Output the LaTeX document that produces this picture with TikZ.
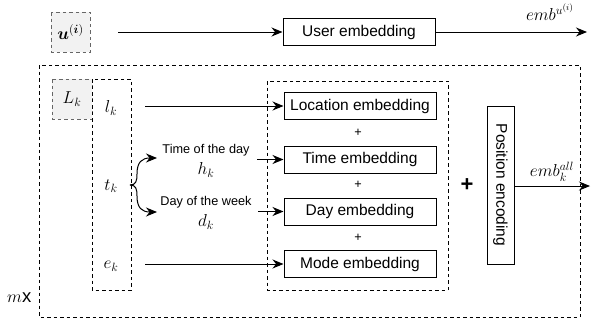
\documentclass[tikz,border=0pt]{standalone}
\usepackage{fontspec}
\setsansfont{Liberation Sans}
\usepackage{amsmath,bm}
\usetikzlibrary{arrows.meta}
\tikzset{
  every node/.style={font=\sffamily},
  emb/.style={draw, line width=1pt, minimum width=152pt, minimum height=27pt, inner sep=0pt, font=\sffamily\fontsize{15.5}{17}\selectfont},
  dbox/.style={draw, line width=1pt, dash pattern=on 3.5pt off 3pt},
  gbox/.style={draw=black!60, fill=black!5, line width=1pt, dash pattern=on 3.5pt off 3pt},
  arr/.style={line width=1pt, -{Stealth[length=11pt,width=9pt]}},
  mth/.style={font=\fontsize{18.5}{20}\selectfont, inner sep=0pt},
  sml/.style={font=\sffamily\fontsize{12.7}{14}\selectfont, inner sep=0pt},
}
\begin{document}
\begin{tikzpicture}[x=1pt,y=-1pt]
\useasboundingbox (0,0) rectangle (592,322);
% top row
\draw[gbox] (51,12) rectangle (90,52);
\node[mth] (u) at (70.5,32) {$\bm{u}^{(\bm{i})}$};
\node[emb] (ue) at (359,32) {User embedding};
\coordinate (us) at (118,32);
\coordinate (uo) at (587,32);
\draw[arr] (us) -- (ue.west);
\draw[arr] (ue.east) -- (uo);
\node[mth] (ul) at (550,12) {$emb^{u^{(i)}}$};
% outer
\draw[dbox] (39,65) rectangle (580,317);
\node[mth, anchor=west] (mx) at (7,298) {$m$\textsf{x}};
% L_k
\draw[gbox] (52,79) rectangle (92,119);
\node[mth] (L) at (72,99) {$L_k$};
\draw[dbox] (92,79) rectangle (131,290);
\node[mth] (l) at (111,108) {$l_k$};
\node[mth] (t) at (111,186) {$t_k$};
\node[mth] (e) at (111,266) {$e_k$};
% inner
\draw[dbox] (267,81) rectangle (448,290);
\node[emb] (le) at (360,106) {Location embedding};
\node[emb] (te) at (360,159.5) {Time embedding};
\node[emb] (de) at (360,211.5) {Day embedding};
\node[emb] (me) at (360,264) {Mode embedding};
\node[sml] (p1) at (358,132.5) {+};
\node[sml] (p2) at (358,185) {+};
\node[sml] (p3) at (358,237.5) {+};
\node[font=\sffamily\bfseries\fontsize{22}{24}\selectfont, inner sep=0pt] (pb) at (467,185) {+};
\node[draw, line width=1pt, minimum width=27pt, minimum height=158pt, inner sep=0pt, font=\sffamily\fontsize{15.5}{17}\selectfont] (pe) at (500.5,185) {\rotatebox{-90}{Position encoding}};
\coordinate (po) at (590,186);
\draw[arr] (pe.east |- po) -- (po);
\node[mth] (al) at (552,172) {$emb_k^{all}$};
% time / day
\node[sml] (tod) at (206,150) {Time of the day};
\node[mth] (hk) at (206,170) {$h_k$};
\node[sml] (dow) at (206,202) {Day of the week};
\node[mth] (dk) at (206,222) {$d_k$};
\coordinate (ta) at (257,159.5);
\coordinate (da) at (258,211.5);
\draw[arr] (ta) -- (te.west);
\draw[arr] (da) -- (de.west);
\coordinate (ls) at (145,106);
\coordinate (es) at (145,264);
\draw[arr] (ls) -- (le.west);
\draw[arr] (es) -- (me.west);
% brace arrows
\coordinate (b0) at (130,185);
\coordinate (bt) at (157,158);
\coordinate (bd) at (157,212);
\draw[arr] (b0) .. controls (136,185) and (137,181) .. (137,174) .. controls (137,162) and (142,158) .. (bt);
\draw[arr] (b0) .. controls (136,185) and (137,189) .. (137,196) .. controls (137,208) and (142,212) .. (bd);
\end{tikzpicture}
\end{document}
